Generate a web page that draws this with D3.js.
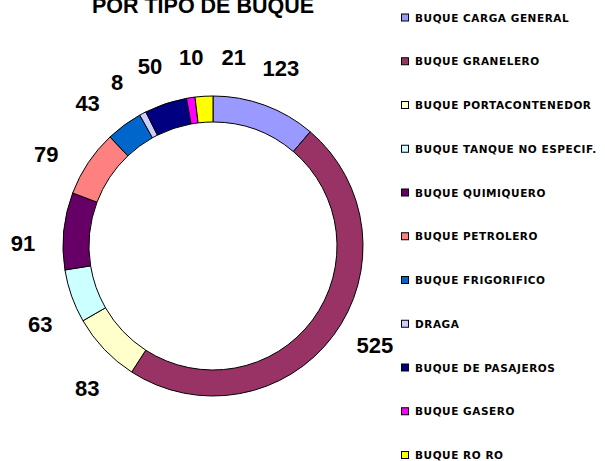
<!DOCTYPE html>
<html><head><meta charset="utf-8">
<script src="https://cdn.jsdelivr.net/npm/d3@7"></script>
<style>html,body{margin:0;padding:0;background:#fff;}svg{display:block;}</style>
</head><body>
<svg id="chart" width="605" height="461"></svg>
<script>
const title = "POR TIPO DE BUQUE";
const categories = ["BUQUE CARGA GENERAL","BUQUE GRANELERO","BUQUE PORTACONTENEDOR","BUQUE TANQUE NO ESPECIF.","BUQUE QUIMIQUERO","BUQUE PETROLERO","BUQUE FRIGORIFICO","DRAGA","BUQUE DE PASAJEROS","BUQUE GASERO","BUQUE RO RO"];
const values = [123,525,83,63,91,79,43,8,50,10,21];
const colors = ["#9999FF","#993366","#FFFFCC","#CCFFFF","#660066","#FF8080","#0066CC","#CCCCFF","#000080","#FF00FF","#FFFF00"];

const svg = d3.select("#chart");
const cx = 213, cy = 246, rOuter = 150, rInner = 124, rLabel = 190;

svg.append("text").attr("x", 203).attr("y", 12.5).attr("text-anchor","middle")
  .attr("font-family","Liberation Sans, Arial, sans-serif").attr("font-weight","bold")
  .attr("font-size", 21.5).attr("fill","#000").text(title);

const data = categories.map((c,i)=>({cat:c, value:values[i], color:colors[i]}));
const pie = d3.pie().value(d=>d.value).sort(null);
const arcs = pie(data);
const arc = d3.arc().innerRadius(rInner).outerRadius(rOuter);

const g = svg.append("g").attr("transform",`translate(${cx},${cy})`);
g.selectAll("path.slice").data(arcs).join("path").attr("class","slice")
  .attr("d", arc).attr("fill", d=>d.data.color)
  .attr("stroke","#000").attr("stroke-width",1).attr("stroke-linejoin","round");

// labels: mid-angle, slight CCW bias, then forward-only spacing based on text width
const lbl = g.selectAll("text.lbl").data(arcs).join("text").attr("class","lbl")
  .attr("text-anchor","middle").attr("dominant-baseline","central")
  .attr("font-family","Liberation Sans, Arial, sans-serif").attr("font-weight","bold")
  .attr("font-size",22).attr("fill","#000")
  .text(d=>d.data.value);
const widths = [];
lbl.each(function(){ widths.push(this.getComputedTextLength()); });
const bias = -5 * Math.PI/180, pad = 18;
const n = arcs.length;
let ang = arcs.map(a => (a.startAngle + a.endAngle)/2 + bias);
// walk from the largest slice onward around the ring
for (let k = 2; k <= n; k++) {
  const i = k % n, p = (k-1) % n;
  let ai = ang[i] + (i === 0 ? 2*Math.PI : 0);
  const need = ((widths[i] + widths[p])/2 + pad) / rLabel;
  if (ai - ang[p] < need) ai = ang[p] + need;
  ang[i] = ai - (i === 0 ? 2*Math.PI : 0);
}
lbl.attr("x", (d,i)=> rLabel*Math.sin(ang[i]))
   .attr("y", (d,i)=> -rLabel*Math.cos(ang[i]));

// legend
const legY = d3.scaleLinear().domain([0, categories.length-1]).range([17.5, 455]);
const items = svg.append("g").selectAll("g").data(data).join("g")
  .attr("transform",(d,i)=>`translate(401,${legY(i)})`);
items.append("rect").attr("x",0.5).attr("y",-3.5).attr("width",7).attr("height",7)
  .attr("fill",d=>d.color).attr("stroke","#000").attr("stroke-width",1);
items.append("text").attr("x",14).attr("y",0).attr("dominant-baseline","central")
  .attr("font-family","DejaVu Sans, sans-serif").attr("font-weight","bold")
  .attr("font-size",10.5).attr("letter-spacing",0.55).attr("fill","#000")
  .text(d=>d.cat);
</script>
</body></html>
